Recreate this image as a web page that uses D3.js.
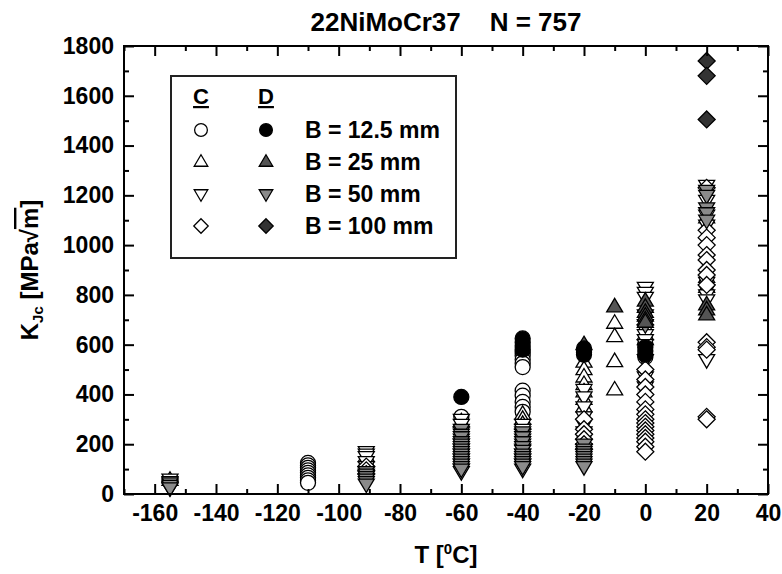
<!DOCTYPE html>
<html>
<head>
<meta charset="utf-8">
<script src="https://cdn.jsdelivr.net/npm/d3@7"></script>
<style>
  body { margin: 0; background: #fff; }
  text { font-family: 'Liberation Sans', Arial, sans-serif; font-weight: bold; }
</style>
</head>
<body>
<div id="chart"></div>
<script>
// values: [T in degC, K_Jc in MPa sqrt(m)]
const openCircle = [
  [-110, 125], [-110, 115], [-110, 105], [-110, 95], [-110, 85], [-110, 75], [-110, 65], [-110, 55], [-110, 45],
  [-60, 310],
  [-40, 570], [-40, 555], [-40, 540], [-40, 525], [-40, 510], [-40, 415], [-40, 395], [-40, 370], [-40, 350], [-40, 330],
  [0, 600], [0, 550]
]
const openUp = [
  [-155, 55], [-91, 150], [-91, 130], [-60, 290],
  [-40, 320], [-40, 300], [-40, 280],
  [-20, 530], [-20, 500], [-20, 470], [-20, 440], [-20, 410], [-20, 380], [-20, 350],
  [-10, 686], [-10, 632], [-10, 532], [-10, 418],
  [0, 640], [0, 620],
  [20, 1110], [20, 870], [20, 830]
]
const openDown = [
  [-155, 60], [-155, 50], [-155, 40], [-155, 30], [-155, 25],
  [-91, 170], [-91, 160], [-91, 150], [-91, 130], [-91, 110],
  [-60, 300], [-60, 280], [-60, 250], [-60, 220], [-60, 200], [-60, 180], [-60, 160], [-60, 140], [-60, 120], [-60, 100], [-60, 90],
  [-40, 280], [-40, 260], [-40, 240], [-40, 220], [-40, 200], [-40, 180], [-40, 160], [-40, 140], [-40, 120], [-40, 100],
  [-20, 420], [-20, 390], [-20, 350], [-20, 310], [-20, 280], [-20, 250], [-20, 220], [-20, 180],
  [0, 830], [0, 810], [0, 790], [0, 660], [0, 640], [0, 620], [0, 600], [0, 540], [0, 470], [0, 430],
  [20, 1240], [20, 1180], [20, 1120], [20, 1080], [20, 850], [20, 820], [20, 800], [20, 780], [20, 540]
]
const openDiamond = [
  [-91, 110], [-91, 95], [-91, 80],
  [-20, 300], [-20, 260], [-20, 240], [-20, 220], [-20, 200], [-20, 180],
  [0, 500], [0, 460], [0, 430], [0, 400], [0, 370], [0, 340], [0, 320], [0, 300], [0, 285], [0, 270], [0, 255],
  [0, 240], [0, 225], [0, 210], [0, 190], [0, 170],
  [20, 1230], [20, 1060], [20, 1030], [20, 1000], [20, 960], [20, 940], [20, 900], [20, 880], [20, 840],
  [20, 610], [20, 590], [20, 580], [20, 310], [20, 300]
]
const filledCircle = [
  [-60, 390],
  [-40, 625], [-40, 610], [-40, 595], [-40, 580],
  [-20, 585], [-20, 570], [-20, 560],
  [0, 590], [0, 575], [0, 560]
]
const filledUp = [
  [-20, 600],
  [-10, 752],
  [0, 775], [0, 750], [0, 730], [0, 715], [0, 700], [0, 690],
  [20, 760], [20, 740], [20, 720]
]
const filledDown = [
  [-155, 45], [-155, 35], [-155, 25],
  [-91, 90], [-91, 80], [-91, 70], [-91, 60], [-91, 50], [-91, 40],
  [-60, 260], [-60, 240], [-60, 230], [-60, 210], [-60, 200], [-60, 190], [-60, 180], [-60, 170], [-60, 160],
  [-60, 150], [-60, 140], [-60, 130], [-60, 120], [-60, 110], [-60, 100],
  [-40, 250], [-40, 230], [-40, 210], [-40, 190], [-40, 175], [-40, 160], [-40, 150], [-40, 140], [-40, 130], [-40, 120], [-40, 110],
  [-20, 200], [-20, 180], [-20, 170], [-20, 160], [-20, 150], [-20, 140], [-20, 130], [-20, 120], [-20, 110],
  [0, 720], [0, 680],
  [20, 1220], [20, 1200], [20, 1150], [20, 1130], [20, 1100]
]
const filledDiamond = [
  [20, 1740], [20, 1680], [20, 1505]
]

const legendSizes = ['B = 12.5 mm', 'B = 25 mm', 'B = 50 mm', 'B = 100 mm']
const xMajorTicks = [-160, -140, -120, -100, -80, -60, -40, -20, 0, 20, 40]
const xMinorTicks = [-170, -150, -130, -110, -90, -70, -50, -30, -10, 10, 30]
const yMajorTicks = [0, 200, 400, 600, 800, 1000, 1200, 1400, 1600, 1800]
const yMinorTicks = [100, 300, 500, 700, 900, 1100, 1300, 1500, 1700]

const margin = { top: 46, left: 124, right: 14, bottom: 80 }
const width = 782 - margin.left - margin.right
const height = 574 - margin.top - margin.bottom

const root = d3
  .select('#chart')
  .append('svg')
  .attr('width', 782)
  .attr('height', 574)

const svg = root
  .append('g')
  .attr('transform', 'translate(' + margin.left + ',' + margin.top + ')')

const xPositionScale = d3.scaleLinear().domain([-170, 40]).range([0, width])
const yPositionScale = d3.scaleLinear().domain([0, 1800]).range([height, 0])

// marker shapes
const shapes = {
  circle: 'M7.5,0A7.5,7.5 0 1,1 -7.5,0A7.5,7.5 0 1,1 7.5,0Z',
  up: 'M0,-8.5L8,5L-8,5Z',
  down: 'M0,8.5L8,-5L-8,-5Z',
  diamond: 'M0,-8.5L8.5,0L0,8.5L-8.5,0Z'
}

const series = [
  { data: openCircle, shape: 'circle', fill: '#fff' },
  { data: openUp, shape: 'up', fill: '#fff' },
  { data: openDown, shape: 'down', fill: '#fff' },
  { data: openDiamond, shape: 'diamond', fill: '#fff' },
  { data: filledDown, shape: 'down', fill: '#8a8a8a' },
  { data: filledUp, shape: 'up', fill: '#555' },
  { data: filledDiamond, shape: 'diamond', fill: '#333' },
  { data: filledCircle, shape: 'circle', fill: '#000' }
]

series.forEach(function(s) {
  svg
    .append('g')
    .selectAll('path')
    .data(s.data)
    .enter()
    .append('path')
    .attr('d', shapes[s.shape])
    .attr('transform', d => 'translate(' + xPositionScale(d[0]) + ',' + yPositionScale(d[1]) + ')')
    .attr('fill', s.fill)
    .attr('stroke', '#000')
    .attr('stroke-width', 1.3)
})

// axes, ticks pointing inward
function styleAxis(g) {
  g.select('.domain').remove()
  g.selectAll('line').attr('stroke', '#000').attr('stroke-width', 2)
  g.selectAll('text').attr('font-size', 23).attr('fill', '#000')
}

svg
  .append('g')
  .attr('transform', 'translate(0,' + height + ')')
  .call(d3.axisBottom(xPositionScale).tickValues(xMajorTicks).tickSize(-10).tickPadding(11).tickFormat(d => String(d)))
  .call(styleAxis)
svg
  .append('g')
  .attr('transform', 'translate(0,' + height + ')')
  .call(d3.axisBottom(xPositionScale).tickValues(xMinorTicks).tickSize(-5).tickFormat(''))
  .call(styleAxis)
svg
  .append('g')
  .call(d3.axisTop(xPositionScale).tickValues(xMajorTicks).tickSize(-10).tickFormat(''))
  .call(styleAxis)
svg
  .append('g')
  .call(d3.axisTop(xPositionScale).tickValues(xMinorTicks).tickSize(-5).tickFormat(''))
  .call(styleAxis)

svg
  .append('g')
  .call(d3.axisLeft(yPositionScale).tickValues(yMajorTicks).tickSize(-10).tickPadding(10).tickFormat(d => String(d)))
  .call(styleAxis)
svg
  .append('g')
  .call(d3.axisLeft(yPositionScale).tickValues(yMinorTicks).tickSize(-5).tickFormat(''))
  .call(styleAxis)
svg
  .append('g')
  .attr('transform', 'translate(' + width + ',0)')
  .call(d3.axisRight(yPositionScale).tickValues(yMajorTicks).tickSize(-10).tickFormat(''))
  .call(styleAxis)
svg
  .append('g')
  .attr('transform', 'translate(' + width + ',0)')
  .call(d3.axisRight(yPositionScale).tickValues(yMinorTicks).tickSize(-5).tickFormat(''))
  .call(styleAxis)

// frame
svg
  .append('rect')
  .attr('width', width)
  .attr('height', height)
  .attr('fill', 'none')
  .attr('stroke', '#000')
  .attr('stroke-width', 2)

// title
root
  .append('text')
  .attr('x', 446)
  .attr('y', 31)
  .attr('text-anchor', 'middle')
  .attr('font-size', 26)
  .attr('xml:space', 'preserve')
  .text('22NiMoCr37    N = 757')

// x label
const xLabel = root
  .append('text')
  .attr('x', 446)
  .attr('y', 563)
  .attr('text-anchor', 'middle')
  .attr('font-size', 24)
xLabel.append('tspan').text('T [')
xLabel.append('tspan').attr('font-size', 15).attr('dy', -9).text('0')
xLabel.append('tspan').attr('dy', 9).text('C]')

// y label
const yLabel = root
  .append('text')
  .attr('transform', 'translate(38,' + (margin.top + height / 2) + ') rotate(-90)')
  .attr('text-anchor', 'middle')
  .attr('font-size', 24)
yLabel.append('tspan').text('K')
yLabel.append('tspan').attr('font-size', 15).attr('dy', 5).text('Jc')
yLabel.append('tspan').attr('dy', -5).text(' [MPa\u221A')
yLabel.append('tspan').attr('text-decoration', 'overline').text('m')
yLabel.append('tspan').text(']')

// legend
const legend = root.append('g').attr('transform', 'translate(171,76)')
legend
  .append('rect')
  .attr('width', 285)
  .attr('height', 182)
  .attr('fill', '#fff')
  .attr('stroke', '#222')
  .attr('stroke-width', 2)

legend
  .selectAll('.head')
  .data(['C', 'D'])
  .enter()
  .append('text')
  .attr('x', (d, i) => 30 + i * 65)
  .attr('y', 28)
  .attr('text-anchor', 'middle')
  .attr('font-size', 22)
  .attr('text-decoration', 'underline')
  .text(d => d)

const legendRows = legend
  .selectAll('.row')
  .data(legendSizes)
  .enter()
  .append('g')
  .attr('transform', (d, i) => 'translate(0,' + (54 + i * 32) + ')')

const openShapes = ['circle', 'up', 'down', 'diamond']
const filledFills = ['#000', '#555', '#8a8a8a', '#333']

legendRows
  .append('path')
  .attr('d', (d, i) => shapes[openShapes[i]])
  .attr('transform', 'translate(30,0) scale(0.85)')
  .attr('fill', '#fff')
  .attr('stroke', '#000')
  .attr('stroke-width', 1.5)
legendRows
  .append('path')
  .attr('d', (d, i) => shapes[openShapes[i]])
  .attr('transform', 'translate(95,0) scale(0.85)')
  .attr('fill', (d, i) => filledFills[i])
  .attr('stroke', '#000')
  .attr('stroke-width', 1.5)
legendRows
  .append('text')
  .attr('x', 134)
  .attr('y', 8)
  .attr('font-size', 23)
  .text(d => d)
</script>
</body>
</html>
